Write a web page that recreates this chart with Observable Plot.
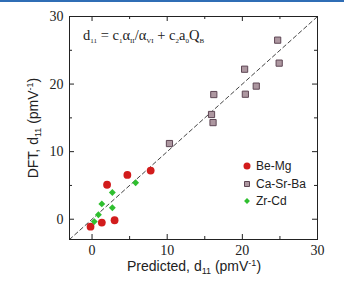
<!DOCTYPE html>
<html><head><meta charset="utf-8">
<script src="https://cdn.jsdelivr.net/npm/d3@7"></script>
<script src="https://cdn.jsdelivr.net/npm/@observablehq/plot@0.6"></script>
<style>
body{margin:0;background:#fff;}
#wrap{position:relative;width:344px;height:281px;}
#bar{position:absolute;left:0;top:0;width:344px;height:2px;background:#2f6db5;}
svg{display:block;}
</style></head><body><div id="wrap"></div>
<script>
const beMgX = [-0.2, 1.3, 3.0, 2.0, 4.7, 7.8];
const beMgY = [-1.1, -0.5, -0.15, 5.1, 6.55, 7.2];
const caSrBaX = [10.3, 15.9, 16.1, 16.2, 20.3, 20.4, 21.85, 24.7, 24.9];
const caSrBaY = [11.2, 15.5, 14.3, 18.45, 22.2, 18.5, 19.7, 26.5, 23.1];
const zrCdX = [0.3, 0.85, 1.3, 2.7, 2.7, 5.8];
const zrCdY = [-0.35, 0.67, 2.27, 3.95, 1.7, 5.4];
const majorTicks = [0, 10, 20, 30];
const minorTicks = [5, 15, 25];
const diag = [-3, 30];
const seriesNames = ["Be-Mg", "Ca-Sr-Ba", "Zr-Cd"];

const toPts = (xs, ys) => xs.map((x, i) => ({x, y: ys[i]}));
const beMg = toPts(beMgX, beMgY);
const caSrBa = toPts(caSrBaX, caSrBaY);
const zrCd = toPts(zrCdX, zrCdY);

const colRed = "#d21c1c", colSqFill = "#ad97a0", colSqStroke = "#5e4654", colGreen = "#2fbf2f";
const ink = "#222";

const W = 344, H = 281, mL = 69, mR = 27, mT = 16, mB = 42;
const fw = W - mL - mR, fh = H - mT - mB;
const majLen = 5, minLen = 3;

const svg = Plot.plot({
  width: W, height: H,
  marginLeft: mL, marginRight: mR, marginTop: mT, marginBottom: mB,
  x: {domain: [-3, 30]},
  y: {domain: [-3, 30]},
  style: "font-family:'Liberation Serif','Times New Roman',serif;font-size:14px;color:#222;background:transparent;",
  marks: [
    Plot.line(diag, {x: d => d, y: d => d, stroke: "#444", strokeWidth: 1, strokeDasharray: "4,3"}),
    Plot.axisX(majorTicks, {anchor: "bottom", tickSize: 0, tickPadding: 6, label: null, fontSize: 14}),
    Plot.axisY(majorTicks, {anchor: "left", tickSize: 0, tickPadding: 6, label: null, fontSize: 14}),
    // inward ticks on all four sides
    Plot.tickX(majorTicks, {x: d => d, insetTop: fh - majLen, stroke: ink}),
    Plot.tickX(majorTicks, {x: d => d, insetBottom: fh - majLen, stroke: ink}),
    Plot.tickX(minorTicks, {x: d => d, insetTop: fh - minLen, stroke: ink}),
    Plot.tickX(minorTicks, {x: d => d, insetBottom: fh - minLen, stroke: ink}),
    Plot.tickY(majorTicks, {y: d => d, insetRight: fw - majLen, stroke: ink}),
    Plot.tickY(majorTicks, {y: d => d, insetLeft: fw - majLen, stroke: ink}),
    Plot.tickY(minorTicks, {y: d => d, insetRight: fw - minLen, stroke: ink}),
    Plot.tickY(minorTicks, {y: d => d, insetLeft: fw - minLen, stroke: ink}),
    Plot.frame({stroke: ink}),
    Plot.dot(caSrBa, {x: "x", y: "y", symbol: "square", r: 3.5, fill: colSqFill, stroke: colSqStroke, strokeWidth: 1}),
    Plot.dot(beMg, {x: "x", y: "y", r: 3.9, fill: colRed}),
    Plot.dot(zrCd, {x: "x", y: "y", symbol: "diamond2", r: 3.1, fill: colGreen})
  ]
});
const wrap = document.getElementById("wrap");
wrap.appendChild(svg);
const bar = document.createElement("div");
bar.id = "bar";
wrap.appendChild(bar);

const s = d3.select(svg);
const sans = "'Liberation Sans',Arial,sans-serif";
const serif = "'Liberation Serif','Times New Roman',serif";

// force serif tick labels at the reference size
s.selectAll("g[aria-label$='tick label']").attr("font-family", serif).attr("font-size", 14)
  .selectAll("text").attr("font-family", serif).attr("font-size", 14).attr("fill", ink);

function rich(sel, parts, subSize) {
  let shift = 0;
  parts.forEach(p => {
    const [t, kind] = Array.isArray(p) ? p : [p, null];
    const target = kind === "sub" ? 3 : kind === "sup" ? -5 : 0;
    const ts = sel.append("tspan").attr("dy", target - shift).text(t);
    if (kind) ts.attr("font-size", subSize);
    shift = target;
  });
}

// equation
const eq = s.append("text").attr("x", 83).attr("y", 40).attr("text-anchor", "start")
  .attr("font-family", serif).attr("font-size", 14.5).attr("fill", ink);
rich(eq, ["d", ["11", "sub"], " = c", ["1", "sub"], "α", ["II", "sub"], "/α", ["VI", "sub"],
  " + c", ["2", "sub"], "a", ["0", "sub"], "Q", ["B", "sub"]], 7);

// axis titles
const xt = s.append("text").attr("x", 194).attr("y", 271).attr("text-anchor", "middle")
  .attr("font-family", sans).attr("font-size", 14).attr("fill", ink);
rich(xt, ["Predicted, d", ["11", "sub"], " (pmV", ["-1", "sup"], ")"], 9);
const yt = s.append("text").attr("transform", "translate(38,128) rotate(-90)").attr("text-anchor", "middle")
  .attr("font-family", sans).attr("font-size", 14).attr("fill", ink);
rich(yt, ["DFT, d", ["11", "sub"], " (pmV", ["-1", "sup"], ")"], 9);

// legend
const legY = [166, 184, 201];
const leg = s.append("g");
const styles = [
  {sym: d3.symbolCircle, size: Math.PI * 3.5 * 3.5, fill: colRed, stroke: "none"},
  {sym: d3.symbolSquare, size: 25, fill: colSqFill, stroke: colSqStroke},
  {sym: d3.symbolDiamond2, size: 22, fill: colGreen, stroke: "none"}
];
seriesNames.forEach((n, i) => {
  const st = styles[i];
  leg.append("path").attr("d", d3.symbol(st.sym, st.size)())
    .attr("transform", `translate(247,${legY[i]})`).attr("fill", st.fill).attr("stroke", st.stroke);
  leg.append("text").attr("x", 256).attr("y", legY[i]).attr("dy", "0.35em").attr("text-anchor", "start")
    .attr("font-family", sans).attr("font-size", 12).attr("fill", ink).text(n);
});
</script></body></html>
